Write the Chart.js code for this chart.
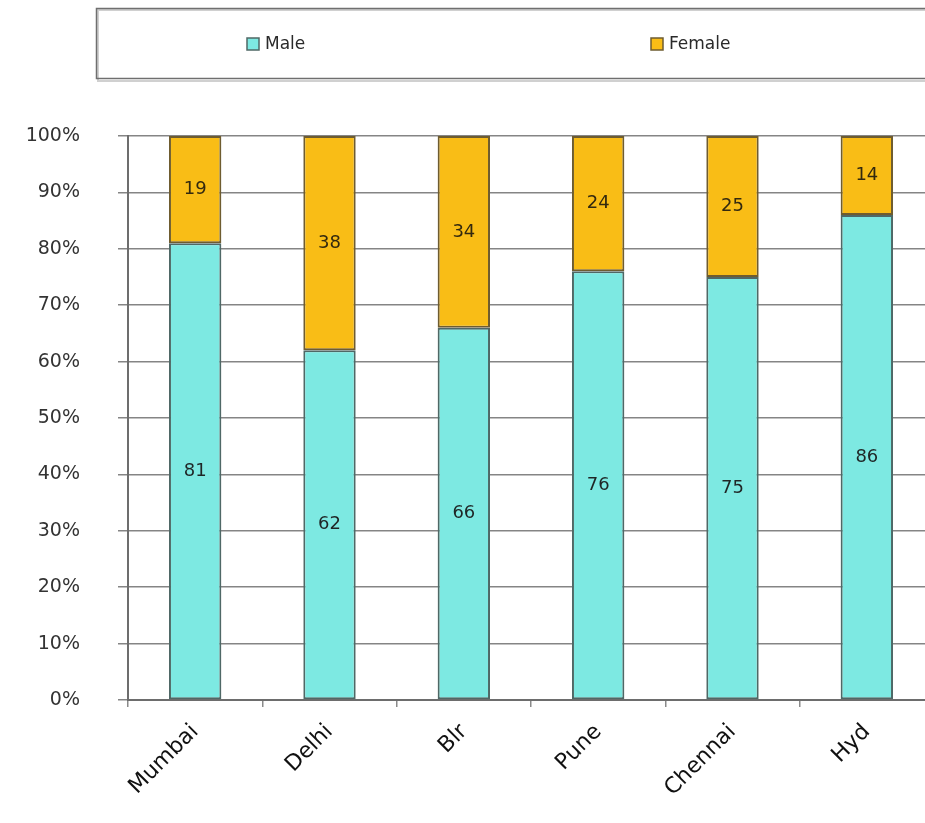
<!DOCTYPE html>
<html>
<head>
<meta charset="utf-8">
<title>Male / Female share by city</title>
<script src="https://cdn.jsdelivr.net/npm/chart.js@4.4.1/dist/chart.umd.min.js"></script>
<style>
  html, body { margin: 0; padding: 0; background: #fff; overflow: hidden; }
  #chart { display: block; }
</style>
</head>
<body>
<canvas id="chart" width="940" height="823"></canvas>
<script>
const cities = ["Mumbai", "Delhi", "Blr", "Pune", "Chennai", "Hyd"];
const male = [81, 62, 66, 76, 75, 86];
const female = [19, 38, 34, 24, 25, 14];
const yTicks = [0, 10, 20, 30, 40, 50, 60, 70, 80, 90, 100];

const maleColor = "#7de9e2";
const femaleColor = "#f9bd16";
const font = "DejaVu Sans";

// numbers written in the middle of each segment
const valueLabels = {
  id: "valueLabels",
  afterDatasetsDraw(chart) {
    const ctx = chart.ctx;
    ctx.save();
    ctx.font = "18px '" + font + "'";
    ctx.textAlign = "center";
    ctx.textBaseline = "middle";
    chart.data.datasets.forEach((ds, i) => {
      const meta = chart.getDatasetMeta(i);
      meta.data.forEach((bar, j) => {
        const p = bar.getProps(["x", "y", "base"], true);
        ctx.fillStyle = i === 0 ? "#1f2626" : "#33290f";
        ctx.fillText(ds.data[j], p.x, (p.y + p.base) / 2);
      });
    });
    ctx.restore();
  },
};

// boxed legend across the top
const boxLegend = {
  id: "boxLegend",
  afterDraw(chart) {
    const ctx = chart.ctx;
    ctx.save();
    ctx.strokeStyle = "#d0d0d0";
    ctx.lineWidth = 2;
    ctx.strokeRect(98, 10, 850, 71);
    ctx.strokeStyle = "#6f6f6f";
    ctx.lineWidth = 1.5;
    ctx.strokeRect(96.5, 8.5, 850, 70);

    const items = [
      { x: 247, ds: chart.data.datasets[0] },
      { x: 651, ds: chart.data.datasets[1] },
    ];
    ctx.font = "17px '" + font + "'";
    ctx.textBaseline = "middle";
    items.forEach((it) => {
      ctx.fillStyle = it.ds.backgroundColor;
      ctx.fillRect(it.x, 38, 12, 12);
      ctx.strokeStyle = it.ds.borderColor;
      ctx.lineWidth = 1.5;
      ctx.strokeRect(it.x, 38, 12, 12);
      ctx.fillStyle = "#2a2a2a";
      ctx.fillText(it.ds.label, it.x + 18, 45);
    });
    ctx.restore();
  },
};

new Chart(document.getElementById("chart"), {
  type: "bar",
  data: {
    labels: cities,
    datasets: [
      {
        label: "Male",
        data: male,
        backgroundColor: maleColor,
        borderColor: "#4f6866",
        borderWidth: 2,
        borderSkipped: false,
        categoryPercentage: 1,
        barPercentage: 0.39,
      },
      {
        label: "Female",
        data: female,
        backgroundColor: femaleColor,
        borderColor: "#6e5c30",
        borderWidth: 2,
        borderSkipped: false,
        categoryPercentage: 1,
        barPercentage: 0.39,
      },
    ],
  },
  options: {
    responsive: false,
    animation: false,
    devicePixelRatio: 1,
    layout: { padding: { top: 136, right: 6, left: 0, bottom: 0 } },
    plugins: {
      legend: { display: false },
      tooltip: { enabled: false },
    },
    scales: {
      x: {
        stacked: true,
        afterFit: (scale) => { scale.height = 123; },
        grid: {
          offset: true,
          drawOnChartArea: false,
          drawTicks: true,
          tickLength: 7,
          color: "#8a8a8a",
          lineWidth: 1.5,
        },
        border: { display: true, color: "#6d6d6d", width: 2 },
        ticks: {
          autoSkip: false,
          minRotation: 45,
          maxRotation: 45,
          padding: 12,
          color: "#111",
          font: { family: font, size: 22 },
        },
      },
      y: {
        stacked: true,
        min: 0,
        max: 100,
        afterFit: (scale) => { scale.width = 128; },
        afterBuildTicks: (scale) => {
          scale.ticks = yTicks.map((v) => ({ value: v }));
        },
        grid: {
          color: "#858585",
          lineWidth: 1.5,
          tickLength: 10,
        },
        border: { display: true, color: "#6d6d6d", width: 2 },
        ticks: {
          padding: 38,
          color: "#333",
          font: { family: font, size: 19 },
          callback: (v) => v + "%",
        },
      },
    },
  },
  plugins: [valueLabels, boxLegend],
});
</script>
</body>
</html>
